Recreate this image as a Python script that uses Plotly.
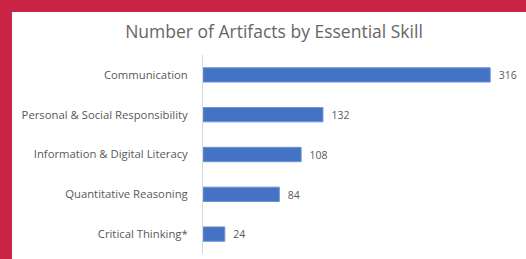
import plotly.graph_objects as go

categories = ["Communication", "Personal & Social Responsibility", "Information & Digital Literacy",
              "Quantitative Reasoning", "Critical Thinking*"]
counts = [316, 132, 108, 84, 24]
title_text = "Number of Artifacts by Essential Skill"

W, H = 526, 259
L, R, T, B = 203, 14, 55, 5
pw, ph = W - L - R, H - T - B

def px_x(p):
    return (p - L) / pw

def px_y(p):
    return (H - B - p) / ph

FONT = "Open Sans"
GREY = "#595959"
CRIMSON = "#C92346"

fig = go.Figure(go.Bar(
    x=counts, y=categories, orientation="h",
    marker=dict(color="#4472C4", line=dict(color="#6F93D6", width=1)),
    text=counts, texttemplate="  %{x}", textposition="outside",
    textfont=dict(family=FONT, size=11, color=GREY),
    cliponaxis=False, width=0.36, hoverinfo="skip",
))

fig.update_layout(
    width=W, height=H,
    margin=dict(l=L, r=R, t=T, b=B, pad=0),
    paper_bgcolor=CRIMSON, plot_bgcolor="white",
    showlegend=False,
    title=dict(text=title_text, x=274 / W, xanchor="center", xref="container",
               y=1 - 32 / H, yanchor="middle", yref="container",
               font=dict(family=FONT, size=17.5, color="#666666")),
    xaxis=dict(range=[0, 340], showticklabels=False, showgrid=False, zeroline=False,
               showline=False, fixedrange=True),
    yaxis=dict(autorange="reversed", showline=True, linecolor="#D9D9D9", linewidth=1,
               ticks="", ticklen=0, showgrid=False, fixedrange=True,
               tickfont=dict(family=FONT, size=11.3, color=GREY), ticklabelstandoff=12),
    shapes=[dict(type="rect", xref="paper", yref="paper",
                 x0=px_x(12), x1=px_x(W + 5), y0=px_y(H + 5), y1=px_y(12),
                 fillcolor="white", line=dict(width=0), layer="below")],
)

fig.write_html("out.html", config={"displayModeBar": False},
               post_script="document.body.style.margin='0';document.body.style.overflow='hidden';")
